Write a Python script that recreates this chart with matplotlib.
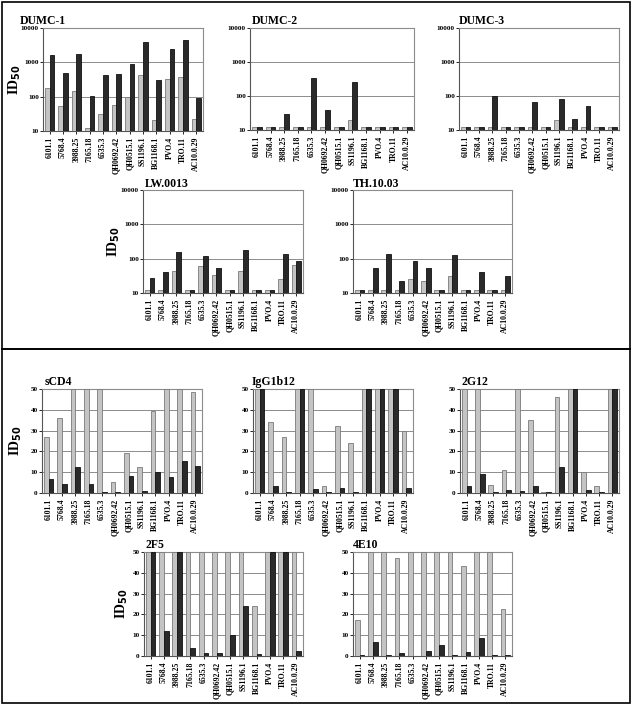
import matplotlib
matplotlib.use("Agg")
import matplotlib.pyplot as plt
import numpy as np
from matplotlib.ticker import FixedLocator, FixedFormatter, NullLocator

plt.rcParams['font.family'] = ['Liberation Serif', 'DejaVu Serif']
plt.rcParams['font.weight'] = 'bold'

# virus isolates
viruses = ["6101.1", "5768.4", "3988.25", "7165.18", "6535.3", "QH0692.42",
           "QH0515.1", "SS1196.1", "BG1168.1", "PVO.4", "TRO.11", "AC10.0.29"]

# top block: sera, ID50 (log scale) - light bar / dark bar
dumc1_a = [175, 52, 150, 12, 31, 58, 100, 430, 21, 330, 380, 23]
dumc1_b = [1650, 500, 1750, 108, 420, 470, 880, 4000, 310, 2500, 4600, 90]
dumc2_a = [12, 12, 12, 12, 12, 12, 12, 20, 12, 12, 12, 12]
dumc2_b = [12, 12, 30, 12, 340, 40, 12, 260, 12, 12, 12, 12]
dumc3_a = [12, 12, 12, 12, 12, 12, 12, 20, 12, 12, 12, 12]
dumc3_b = [12, 12, 98, 12, 12, 68, 12, 82, 21, 50, 12, 12]
lw_a = [12, 12, 45, 12, 60, 34, 12, 45, 12, 12, 26, 65]
lw_b = [27, 40, 155, 12, 120, 54, 12, 180, 12, 12, 135, 83]
th_a = [12, 12, 12, 12, 26, 22, 12, 32, 12, 12, 12, 12]
th_b = [12, 53, 135, 22, 83, 53, 12, 130, 12, 40, 12, 32]

# bottom block: reagents, ID50 (linear, capped at 50)
scd4_a = [27, 36, 50, 50, 50, 5.2, 19.4, 12.3, 39.2, 50, 50, 48.4]
scd4_b = [6.5, 4.2, 12.3, 4.5, 0.6, 0.5, 8.4, 1.0, 10.3, 7.9, 15.3, 13.2]
b12_a = [50, 34.2, 27, 50, 50, 3.2, 32, 24, 50, 50, 50, 30]
b12_b = [50, 3.2, 0.5, 50, 2.1, 0.3, 2.6, 0.3, 50, 50, 50, 2.2]
g12_a = [50, 50, 3.9, 11, 50, 35.2, 0.3, 46, 50, 10, 3.2, 50]
g12_b = [3.2, 9.2, 0.5, 1.3, 0.8, 3.2, 0.3, 12.3, 50, 1.5, 0.5, 50]
f5_a = [50, 50, 50, 50, 50, 50, 50, 50, 24.1, 50, 50, 50]
f5_b = [50, 12.1, 50, 4.0, 1.3, 1.4, 10.2, 24.1, 0.8, 50, 50, 2.2]
e10_a = [17.3, 50, 50, 47.1, 50, 50, 50, 50, 43.1, 50, 50, 22.4]
e10_b = [0.5, 6.5, 0.6, 1.6, 0.2, 2.4, 5.4, 0.3, 2.1, 8.8, 0.5, 0.3]

W, H = 632, 706
fig = plt.figure(figsize=(W / 100, H / 100), dpi=100)

# (title, light, dark, log?, axes box in px (l, t, r, b), title pos, ylabel x)
panels = [
    ("DUMC-1", dumc1_a, dumc1_b, True, (43, 28, 203, 131), (20, 21), 15),
    ("DUMC-2", dumc2_a, dumc2_b, True, (250, 28, 414, 130), (252, 21), None),
    ("DUMC-3", dumc3_a, dumc3_b, True, (459, 28, 619, 130), (459, 21), None),
    ("LW.0013", lw_a, lw_b, True, (143, 190, 303, 293), (145, 184), 114),
    ("TH.10.03", th_a, th_b, True, (353, 190, 512, 293), (353, 184), None),
    ("sCD4", scd4_a, scd4_b, False, (42, 389, 202, 493), (45, 382), 16),
    ("IgG1b12", b12_a, b12_b, False, (253, 389, 413, 493), (252, 382), None),
    ("2G12", g12_a, g12_b, False, (460, 389, 619, 493), (462, 382), None),
    ("2F5", f5_a, f5_b, False, (144, 552, 303, 656), (145, 545), 122),
    ("4E10", e10_a, e10_b, False, (353, 552, 512, 656), (353, 545), None),
]

x = np.arange(len(viruses))
bw = 0.36

for name, a, b, logy, box, tpos, ylx in panels:
    l, t, r, bt = box
    ax = fig.add_axes([l / W, 1 - bt / H, (r - l) / W, (bt - t) / H])
    base = 10 if logy else 0
    ha = np.array(a, dtype=float) - base
    hb = np.array(b, dtype=float) - base
    ax.bar(x - bw / 2, ha, bw, bottom=base, color="#c4c4c4",
           edgecolor="#7a7a7a", linewidth=0.6, zorder=3)
    ax.bar(x + bw / 2, hb, bw, bottom=base, color="#2a2a2a",
           edgecolor="#111111", linewidth=0.6, zorder=3)
    ax.set_xlim(-0.5, len(viruses) - 0.5)
    if logy:
        ax.set_yscale("log")
        ax.set_ylim(10, 10000)
        ticks = [10, 100, 1000, 10000]
        ax.yaxis.set_major_locator(FixedLocator(ticks))
        ax.yaxis.set_major_formatter(FixedFormatter([str(v) for v in ticks]))
        ax.yaxis.set_minor_locator(NullLocator())
    else:
        ax.set_ylim(0, 50)
        ax.set_yticks([0, 10, 20, 30, 40, 50])
    ax.grid(axis="y", color="#8c8c8c", linewidth=0.7, zorder=0)
    ax.set_axisbelow(True)
    for s in ax.spines.values():
        s.set_color("#8c8c8c")
        s.set_linewidth(0.8)
    ax.spines["left"].set_color("#555555")
    ax.spines["bottom"].set_color("#555555")
    ax.set_xticks(x)
    ax.set_xticklabels(viruses, rotation=90, fontsize=5.6, fontweight="bold")
    ax.tick_params(axis="y", labelsize=5.2, length=2, width=0.6, pad=1)
    ax.tick_params(axis="x", length=2, width=0.6, pad=2)
    fig.text(tpos[0] / W, 1 - tpos[1] / H, name, fontsize=8.5,
             fontweight="bold", ha="left", va="center")
    if ylx is not None:
        fig.text(ylx / W, 1 - ((t + bt) / 2) / H, "ID$_\\mathbf{50}$",
                 fontsize=10, fontweight="bold", rotation=90,
                 ha="center", va="center")

# frame and separator
fig.add_artist(plt.Rectangle((1.5 / W, 1 - 703 / H), 628 / W, 701.5 / H,
                             transform=fig.transFigure, fill=False,
                             edgecolor="black", linewidth=1.2))
fig.add_artist(plt.Line2D([1.5 / W, 629.5 / W], [1 - 349 / H, 1 - 349 / H],
                          transform=fig.transFigure, color="black",
                          linewidth=1.4))

fig.savefig("out.png", dpi=100)
